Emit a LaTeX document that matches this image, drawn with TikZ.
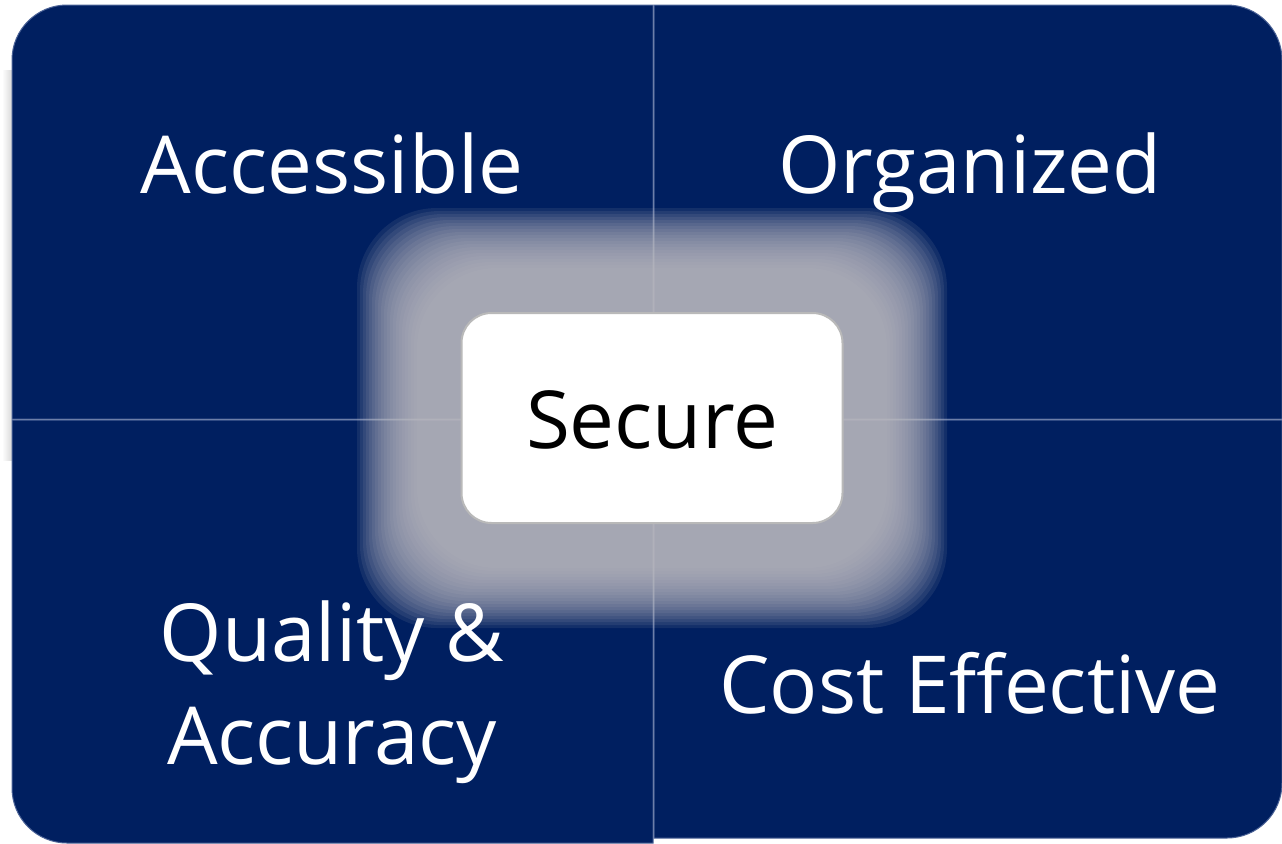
\documentclass[tikz,border=0pt]{standalone}
\usepackage{fontspec}
\setmainfont{Open Sans}
\usetikzlibrary{positioning}
\definecolor{navy}{RGB}{0,31,96}
\definecolor{navyedge}{RGB}{75,98,150}
\definecolor{glowgray}{RGB}{190,188,194}

\begin{document}
\begin{tikzpicture}[x=0.5pt, y=-0.5pt,
    every node/.style={font=\fontsize{40}{51.5}\selectfont, align=center},
    quadtext/.style={text=white, anchor=base},
    quad/.style={fill=navy, draw=navyedge, line width=0.5pt}]
    \useasboundingbox (0,0) rectangle (1282,843);

    % soft shadow on the left
    \shade[left color=white, right color=gray!30] (2,70) rectangle (12,460);

    % Four quadrants
    \path[quad] (653,419) -- (12,419) -- (12,60) arc[start angle=180, end angle=270, radius=55] -- (653,5) -- cycle;
    \path[quad] (654,419) -- (654,5) -- (1227,5) arc[start angle=270, end angle=360, radius=55] -- (1282,419) -- cycle;
    \path[quad] (653,420) -- (12,420) -- (12,788) arc[start angle=180, end angle=90, radius=55] -- (653,843) -- cycle;
    \path[quad] (654,420) -- (654,838) -- (1227,838) arc[start angle=90, end angle=0, radius=55] -- (1282,420) -- cycle;

    % Glow round the centre
    \foreach \i in {0,...,20} {
        \fill[glowgray, opacity=0.1, rounded corners=40pt]
            (652-295+3*\i, 418-210+3*\i) rectangle (652+295-3*\i, 418+210-3*\i);
    }

    % Labels
    \node[quadtext] (accessible) at (332,193) {Accessible};
    \node[quadtext] (organized) at (970,193) {Organized};
    \node[text=white] (quality) at (332,692) {Quality \&\\Accuracy};
    \node[quadtext] (cost) at (970,713) {Cost Effective};

    % Centre box
    \node[draw=gray!55, line width=1pt, fill=white, rounded corners=15pt, minimum width=190.5pt, minimum height=105pt] (secure) at (652,418) {};
    \node[anchor=base] (securetext) at (652,448) {Secure};
\end{tikzpicture}
\end{document}
